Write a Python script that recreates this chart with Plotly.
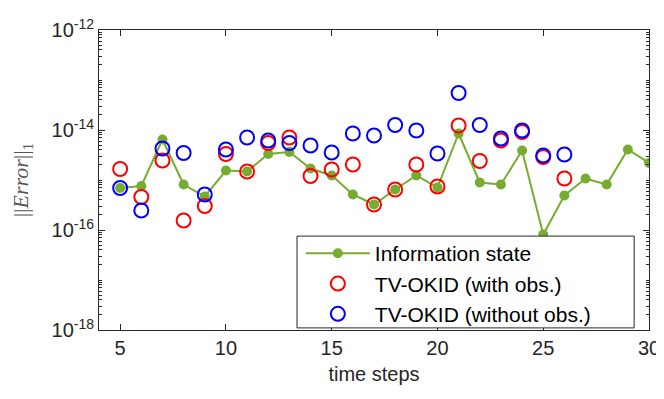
import plotly.graph_objects as go
import numpy as np

steps_info = list(range(5, 31))
info_log = [-15.16, -15.12, -14.19, -15.09, -15.33, -14.81, -14.83, -14.48, -14.44, -14.77,
            -14.91, -15.29, -15.49, -15.19, -14.91, -15.15, -14.07, -15.05, -15.09, -14.41,
            -16.09, -15.31, -14.97, -15.09, -14.39, -14.66]
steps_okid = list(range(5, 27))
with_obs_log = [-14.78, -15.34, -14.61, -15.81, -15.52, -14.48, -14.83, -14.26, -14.15, -14.92,
                -14.79, -14.69, -15.49, -15.19, -14.69, -15.13, -13.91, -14.62, -14.21, -14.04,
                -14.54, -14.97]
without_obs_log = [-15.16, -15.61, -14.37, -14.46, -15.29, -14.39, -14.15, -14.21, -14.26, -14.31,
                   -14.45, -14.07, -14.11, -13.90, -14.01, -14.47, -13.26, -13.90, -14.17, -14.01,
                   -14.51, -14.49]

info = [10 ** v for v in info_log]
with_obs = [10 ** v for v in with_obs_log]
without_obs = [10 ** v for v in without_obs_log]

x_ticks = [5, 10, 15, 20, 25, 30]
y_ticks = [1e-18, 1e-16, 1e-14, 1e-12]
y_ticktext = ["10<sup>-18</sup>", "10<sup>-16</sup>", "10<sup>-14</sup>", "10<sup>-12</sup>"]

minor_vals = []
for k in range(-18, -12):
    for m in range(2, 10):
        minor_vals.append(m * 10.0 ** k)
    if k % 2 != 0:
        minor_vals.append(10.0 ** k)

AX = "#262626"
FONT = "Liberation Sans, Arial, sans-serif"

fig = go.Figure()
fig.add_trace(go.Scatter(
    x=steps_info, y=info, mode="lines+markers", name="Information state",
    line=dict(color="#77AC30", width=2),
    marker=dict(color="#77AC30", size=10, symbol="circle"),
))
fig.add_trace(go.Scatter(
    x=steps_okid, y=with_obs, mode="markers", name="TV-OKID (with obs.)",
    marker=dict(symbol="circle-open", color="#FF0000", size=14, line=dict(width=2, color="#FF0000")),
))
fig.add_trace(go.Scatter(
    x=steps_okid, y=without_obs, mode="markers", name="TV-OKID (without obs.)",
    marker=dict(symbol="circle-open", color="#0000FF", size=14, line=dict(width=2, color="#0000FF")),
))

# page body has an 8px default margin, so the figure is sized to fit within the window
fig.update_layout(
    width=656, height=391,
    margin=dict(l=91, r=15, t=22, b=69),
    paper_bgcolor="white", plot_bgcolor="white",
    font=dict(family=FONT, size=20, color=AX),
    showlegend=True,
    legend=dict(
        x=0.367, y=0.323, xanchor="left", yanchor="top",
        bgcolor="rgba(0,0,0,0)", borderwidth=0,
        font=dict(family=FONT, size=21, color="black"),
        itemwidth=64, tracegroupgap=0,
    ),
    shapes=[dict(
        type="rect", xref="paper", yref="paper", layer="above",
        x0=0.36, x1=0.973, y0=0.007, y1=0.313,
        fillcolor="white", line=dict(color=AX, width=1),
    )],
)

fig.update_xaxes(
    range=[4, 30], tickvals=x_ticks, ticks="inside", ticklen=6, tickwidth=1, tickcolor=AX,
    showline=True, linecolor=AX, linewidth=1, mirror="ticks", showgrid=False, zeroline=False,
    automargin=False,
    tickfont=dict(size=20, color=AX),
    title=dict(text="time steps", font=dict(size=20, color=AX), standoff=8),
)
fig.update_yaxes(
    type="log", range=[-18, -12], tickmode="array", tickvals=y_ticks, ticktext=y_ticktext,
    ticks="inside", ticklen=6, tickwidth=1, tickcolor=AX,
    showline=True, linecolor=AX, linewidth=1, mirror="ticks", showgrid=False, zeroline=False,
    automargin=False,
    tickfont=dict(size=20, color=AX),
    minor=dict(tickmode="array", tickvals=minor_vals, ticks="inside", ticklen=3, tickcolor=AX, showgrid=False),
    title=dict(text="||<i>Error</i>||<sub>1</sub>", font=dict(family="Liberation Serif, serif", size=22, color="#555555"), standoff=25),
)

fig.write_html("out.html")
